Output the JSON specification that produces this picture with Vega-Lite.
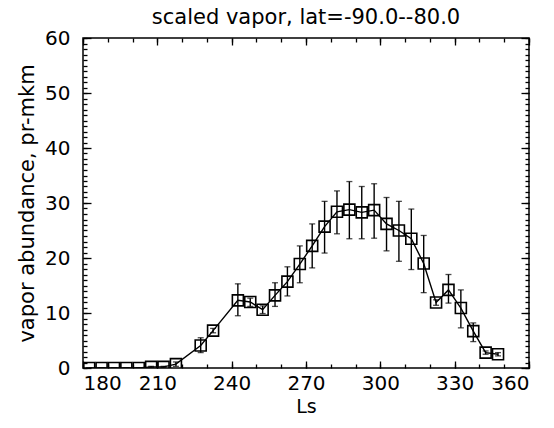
{
  "$schema": "https://vega.github.io/schema/vega-lite/v6.json",
  "width": 446,
  "height": 330,
  "autosize": "none",
  "padding": {"left": 83, "top": 38, "right": 25, "bottom": 60},
  "background": "white",
  "title": {"text": "scaled vapor, lat=-90.0--80.0", "font": "DejaVu Sans", "fontSize": 21, "fontWeight": "normal", "color": "black", "offset": 0, "anchor": "middle"},
  "config": {
    "view": {"stroke": "black", "strokeWidth": 1.5},
    "axis": {"domain": false, "grid": false, "labelFont": "DejaVu Sans", "labelFontSize": 20, "labelColor": "black", "tickColor": "black", "tickWidth": 1.3, "titleFont": "DejaVu Sans", "titleFontSize": 20, "titleFontWeight": "normal", "titleColor": "black"}
  },
  "data": {"values": [
    {"ls": 182.5, "v": 0, "lo": 0, "hi": 0},
    {"ls": 187.5, "v": 0, "lo": 0, "hi": 0},
    {"ls": 192.5, "v": 0, "lo": 0, "hi": 0},
    {"ls": 197.5, "v": 0, "lo": 0, "hi": 0},
    {"ls": 202.5, "v": 0, "lo": 0, "hi": 0},
    {"ls": 207.5, "v": 0.2, "lo": 0.1, "hi": 0.3},
    {"ls": 212.5, "v": 0.2, "lo": 0.1, "hi": 0.3},
    {"ls": 217.5, "v": 0.7, "lo": 0.3, "hi": 1.1},
    {"ls": 227.5, "v": 4.1, "lo": 2.8, "hi": 5.5},
    {"ls": 232.5, "v": 6.8, "lo": 6.4, "hi": 7.2},
    {"ls": 242.5, "v": 12.3, "lo": 9.5, "hi": 15.3},
    {"ls": 247.5, "v": 12.0, "lo": 11.2, "hi": 12.7},
    {"ls": 252.5, "v": 10.6, "lo": 9.9, "hi": 11.3},
    {"ls": 257.5, "v": 13.2, "lo": 11.2, "hi": 15.5},
    {"ls": 262.5, "v": 15.7, "lo": 13.1, "hi": 18.4},
    {"ls": 267.5, "v": 18.9, "lo": 15.5, "hi": 22.2},
    {"ls": 272.5, "v": 22.2, "lo": 18.2, "hi": 26.2},
    {"ls": 277.5, "v": 25.7, "lo": 20.9, "hi": 30.3},
    {"ls": 282.5, "v": 28.4, "lo": 24.4, "hi": 32.2},
    {"ls": 287.5, "v": 28.8, "lo": 23.5, "hi": 33.9},
    {"ls": 292.5, "v": 28.3, "lo": 23.5, "hi": 33.0},
    {"ls": 297.5, "v": 28.7, "lo": 23.6, "hi": 33.5},
    {"ls": 302.5, "v": 26.2, "lo": 21.3, "hi": 31.0},
    {"ls": 307.5, "v": 25.0, "lo": 19.4, "hi": 30.3},
    {"ls": 312.5, "v": 23.5, "lo": 17.9, "hi": 28.9},
    {"ls": 317.5, "v": 19.0, "lo": 13.7, "hi": 24.1},
    {"ls": 322.5, "v": 11.9, "lo": 11.4, "hi": 12.4},
    {"ls": 327.5, "v": 14.2, "lo": 11.8, "hi": 17.0},
    {"ls": 332.5, "v": 10.9, "lo": 7.3, "hi": 14.2},
    {"ls": 337.5, "v": 6.7, "lo": 4.8, "hi": 8.2},
    {"ls": 342.5, "v": 2.8, "lo": 2.5, "hi": 3.1},
    {"ls": 347.5, "v": 2.5, "lo": 2.2, "hi": 2.8}
  ]},
  "layer": [
    {
      "mark": {"type": "line", "color": "black", "strokeWidth": 1.4, "clip": true},
      "encoding": {
        "x": {"field": "ls", "type": "quantitative", "scale": {"domain": [180, 360], "nice": false, "zero": false},
              "axis": {"orient": "bottom", "values": [180, 210, 240, 270, 300, 330, 360], "tickSize": -7, "labelPadding": 12, "title": "Ls", "titleFontSize": 19, "titlePadding": 4}},
        "y": {"field": "v", "type": "quantitative", "scale": {"domain": [0, 60], "nice": false, "zero": false},
              "axis": {"orient": "left", "values": [0, 10, 20, 30, 40, 50, 60], "tickSize": -8, "labelPadding": 21, "title": "vapor abundance, pr-mkm", "titleFontSize": 21, "titlePadding": 7}}
      }
    },
    {
      "mark": {"type": "rule", "color": "black", "strokeWidth": 1.4, "clip": true},
      "encoding": {
        "x": {"field": "ls", "type": "quantitative", "scale": {"domain": [180, 360], "nice": false, "zero": false},
              "axis": {"orient": "bottom", "values": [180, 190, 200, 210, 220, 230, 240, 250, 260, 270, 280, 290, 300, 310, 320, 330, 340, 350, 360], "tickSize": -4, "labels": false, "title": null}},
        "y": {"field": "lo", "type": "quantitative", "scale": {"domain": [0, 60], "nice": false, "zero": false},
              "axis": {"orient": "left", "values": [0,1,2,3,4,5,6,7,8,9,10,11,12,13,14,15,16,17,18,19,20,21,22,23,24,25,26,27,28,29,30,31,32,33,34,35,36,37,38,39,40,41,42,43,44,45,46,47,48,49,50,51,52,53,54,55,56,57,58,59,60], "tickSize": -4, "labels": false, "title": null}},
        "y2": {"field": "hi"}
      }
    },
    {
      "mark": {"type": "tick", "color": "black", "orient": "horizontal", "size": 6, "thickness": 1.3, "clip": true},
      "encoding": {
        "x": {"field": "ls", "type": "quantitative", "scale": {"domain": [180, 360], "nice": false, "zero": false},
              "axis": {"orient": "top", "values": [180, 210, 240, 270, 300, 330, 360], "tickSize": -7, "labels": false, "title": null}},
        "y": {"field": "lo", "type": "quantitative", "scale": {"domain": [0, 60], "nice": false, "zero": false},
              "axis": {"orient": "right", "values": [0, 10, 20, 30, 40, 50, 60], "tickSize": -8, "labels": false, "title": null}}
      }
    },
    {
      "mark": {"type": "tick", "color": "black", "orient": "horizontal", "size": 6, "thickness": 1.3, "clip": true},
      "encoding": {
        "x": {"field": "ls", "type": "quantitative", "scale": {"domain": [180, 360], "nice": false, "zero": false},
              "axis": {"orient": "top", "values": [180, 190, 200, 210, 220, 230, 240, 250, 260, 270, 280, 290, 300, 310, 320, 330, 340, 350, 360], "tickSize": -4, "labels": false, "title": null}},
        "y": {"field": "hi", "type": "quantitative", "scale": {"domain": [0, 60], "nice": false, "zero": false},
              "axis": {"orient": "right", "values": [0,1,2,3,4,5,6,7,8,9,10,11,12,13,14,15,16,17,18,19,20,21,22,23,24,25,26,27,28,29,30,31,32,33,34,35,36,37,38,39,40,41,42,43,44,45,46,47,48,49,50,51,52,53,54,55,56,57,58,59,60], "tickSize": -4, "labels": false, "title": null}}
      }
    },
    {
      "mark": {"type": "point", "shape": "square", "filled": false, "color": "black", "size": 121, "strokeWidth": 1.6, "opacity": 1, "clip": true},
      "encoding": {
        "x": {"field": "ls", "type": "quantitative", "scale": {"domain": [180, 360], "nice": false, "zero": false}, "axis": null},
        "y": {"field": "v", "type": "quantitative", "scale": {"domain": [0, 60], "nice": false, "zero": false}, "axis": null}
      }
    }
  ],
  "resolve": {"axis": {"x": "independent", "y": "independent"}}
}
